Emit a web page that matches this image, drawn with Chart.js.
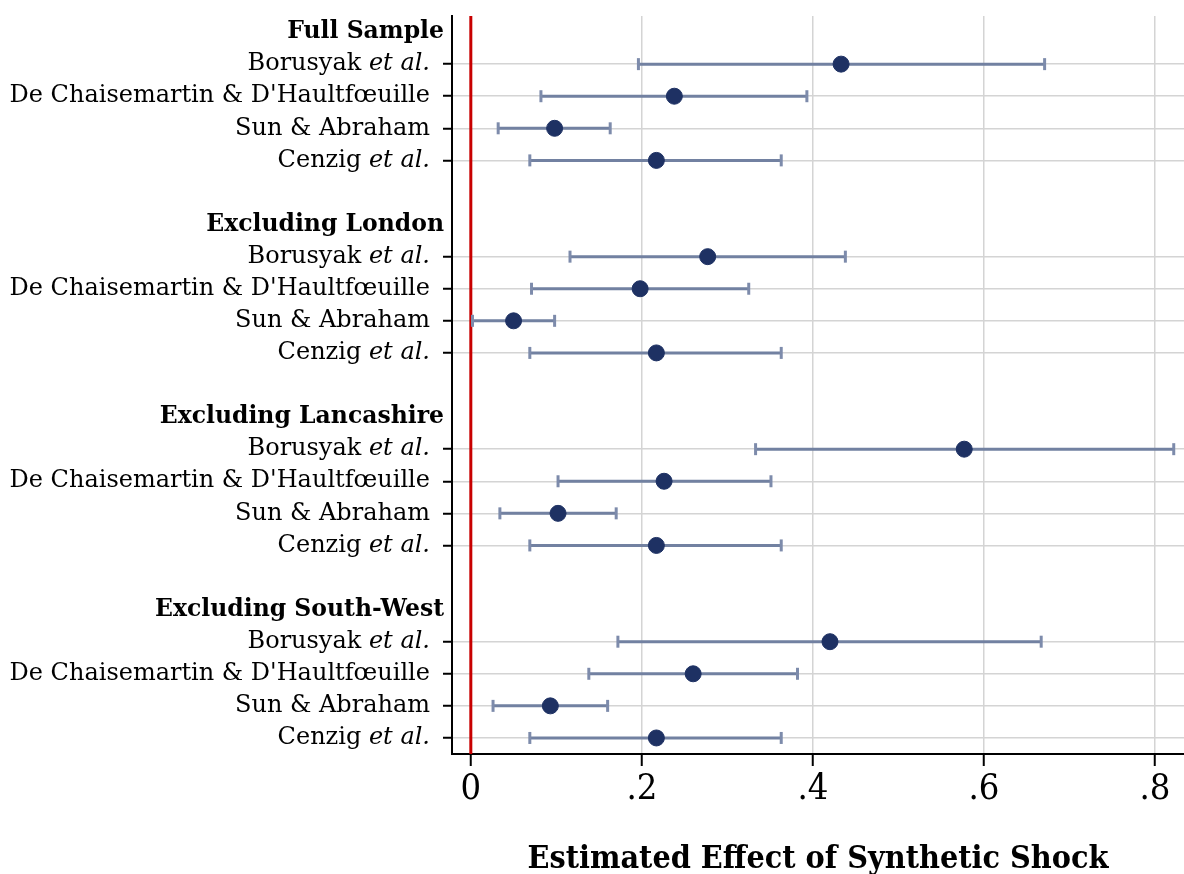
<!DOCTYPE html>
<html>
<head>
<meta charset="utf-8">
<script src="https://cdn.jsdelivr.net/npm/chart.js@4/dist/chart.umd.min.js"></script>
<style>
  html, body { margin: 0; padding: 0; background: #fff; overflow: hidden; }
  canvas { display: block; }
</style>
</head>
<body>
<canvas id="myChart" width="1184" height="874"></canvas>
<script>
// groups and estimators, top to bottom
const groups = ['Full Sample', 'Excluding London', 'Excluding Lancashire', 'Excluding South-West'];
const methods = ['Borusyak et al.', "De Chaisemartin & D'Haultfœuille", 'Sun & Abraham', 'Cenzig et al.'];

// point estimates and 95% CI per group (order = methods)
const fullEst = [0.433, 0.238, 0.098, 0.217];
const fullLo  = [0.196, 0.082, 0.032, 0.069];
const fullHi  = [0.671, 0.393, 0.163, 0.363];

const londonEst = [0.277, 0.198, 0.050, 0.217];
const londonLo  = [0.116, 0.071, 0.002, 0.069];
const londonHi  = [0.438, 0.325, 0.098, 0.363];

const lancsEst = [0.577, 0.226, 0.102, 0.217];
const lancsLo  = [0.333, 0.102, 0.034, 0.069];
const lancsHi  = [0.822, 0.351, 0.170, 0.363];

const swEst = [0.420, 0.260, 0.093, 0.217];
const swLo  = [0.172, 0.138, 0.026, 0.069];
const swHi  = [0.667, 0.382, 0.160, 0.363];

const xTicks = [0, 0.2, 0.4, 0.6, 0.8];
const xTitle = 'Estimated Effect of Synthetic Shock';

const allEst = [fullEst, londonEst, lancsEst, swEst];
const allLo = [fullLo, londonLo, lancsLo, swLo];
const allHi = [fullHi, londonHi, lancsHi, swHi];

// each group takes a header row + 4 method rows + 1 blank row
function rowOf(g, m) { return g * 6 + 1 + m; }

let points = [];
let bars = [];
let methodRows = [];
let rowLabels = [];
for (let g = 0; g < groups.length; g++) {
  rowLabels.push({ row: g * 6, text: groups[g], header: true });
  for (let m = 0; m < methods.length; m++) {
    let r = rowOf(g, m);
    methodRows.push(r);
    rowLabels.push({ row: r, text: methods[m], header: false });
    points.push({ x: allEst[g][m], y: r });
    bars.push({ x: allLo[g][m], y: r });
    bars.push({ x: allHi[g][m], y: r });
    bars.push({ x: null, y: null });
  }
}

const serif = '"DejaVu Serif", "Liberation Serif", serif';
const serifCond = '"DejaVu Serif Condensed", "DejaVu Serif", serif';

// draws the y labels, bold headers and italic "et al."
const rowLabelPlugin = {
  id: 'rowLabels',
  afterDraw(chart) {
    const ctx = chart.ctx;
    const y = chart.scales.y;
    const left = chart.chartArea.left;
    ctx.save();
    ctx.fillStyle = '#000';
    ctx.textBaseline = 'middle';
    ctx.textAlign = 'left';
    rowLabels.forEach(function(l) {
      const py = y.getPixelForValue(l.row);
      if (l.header) {
        ctx.font = 'bold 23.5px ' + serif;
        const w = ctx.measureText(l.text).width;
        ctx.fillText(l.text, left - 8 - w, py);
        return;
      }
      let parts = [];
      let idx = l.text.indexOf('et al.');
      if (idx >= 0) {
        parts.push([l.text.slice(0, idx), false]);
        parts.push(['et al.', true]);
      } else {
        parts.push([l.text, false]);
      }
      let total = 0;
      parts.forEach(function(p) {
        ctx.font = (p[1] ? 'italic ' : '') + '24px ' + serif;
        p.push(ctx.measureText(p[0]).width);
        total += p[2];
      });
      let x = left - 22 - total;
      parts.forEach(function(p) {
        ctx.font = (p[1] ? 'italic ' : '') + '24px ' + serif;
        ctx.fillText(p[0], x, py);
        x += p[2];
      });
    });
    ctx.restore();
  }
};

const ctx = document.getElementById('myChart');

new Chart(ctx, {
  type: 'scatter',
  data: {
    datasets: [
      {
        label: 'zero',
        data: [{ x: 0, y: -0.5 }, { x: 0, y: 22.5 }],
        showLine: true,
        borderColor: '#c80000',
        borderWidth: 3,
        pointRadius: 0,
        order: 3
      },
      {
        label: 'ci',
        data: bars,
        showLine: true,
        spanGaps: false,
        borderColor: '#7281a1',
        borderWidth: 3,
        pointStyle: 'line',
        rotation: 90,
        pointRadius: 6,
        pointBorderWidth: 3,
        pointBorderColor: '#7d8bab',
        order: 2
      },
      {
        label: 'estimate',
        data: points,
        backgroundColor: '#1e3163',
        borderColor: '#1e3163',
        pointRadius: 8,
        pointHoverRadius: 8,
        order: 1
      }
    ]
  },
  options: {
    responsive: false,
    animation: false,
    layout: { autoPadding: false, padding: { top: 16, right: 0, left: 0, bottom: 0 } },
    plugins: {
      legend: { display: false },
      tooltip: { enabled: false }
    },
    scales: {
      x: {
        type: 'linear',
        min: -0.022,
        max: 0.834,
        afterBuildTicks: function(scale) {
          scale.ticks = xTicks.map(v => ({ value: v }));
        },
        afterFit: function(scale) {
          scale.height = 120;
          scale.paddingLeft = 0;
          scale.paddingRight = 0;
        },
        grid: {
          color: '#d4d4d4',
          lineWidth: 1.5,
          tickColor: '#000',
          tickLength: 12,
          tickWidth: 2
        },
        border: { display: true, color: '#000', width: 2 },
        ticks: {
          color: '#000',
          padding: 2,
          maxRotation: 0,
          font: { family: serifCond, size: 36 },
          callback: function(v) { return v === 0 ? '0' : v.toFixed(1).replace(/^0/, ''); }
        },
        title: {
          display: true,
          text: xTitle,
          color: '#000',
          font: { family: serifCond, size: 32, weight: 'bold' },
          padding: { top: 20, bottom: -5 }
        }
      },
      y: {
        type: 'linear',
        reverse: true,
        min: -0.5,
        max: 22.5,
        afterBuildTicks: function(scale) {
          scale.ticks = methodRows.map(v => ({ value: v }));
        },
        afterFit: function(scale) { scale.width = 452; },
        grid: {
          color: '#d4d4d4',
          lineWidth: 1.5,
          tickColor: '#000',
          tickLength: 9,
          tickWidth: 2
        },
        border: { display: true, color: '#000', width: 2 },
        ticks: {
          callback: function() { return ''; }
        }
      }
    }
  },
  plugins: [rowLabelPlugin]
});
</script>
</body>
</html>
